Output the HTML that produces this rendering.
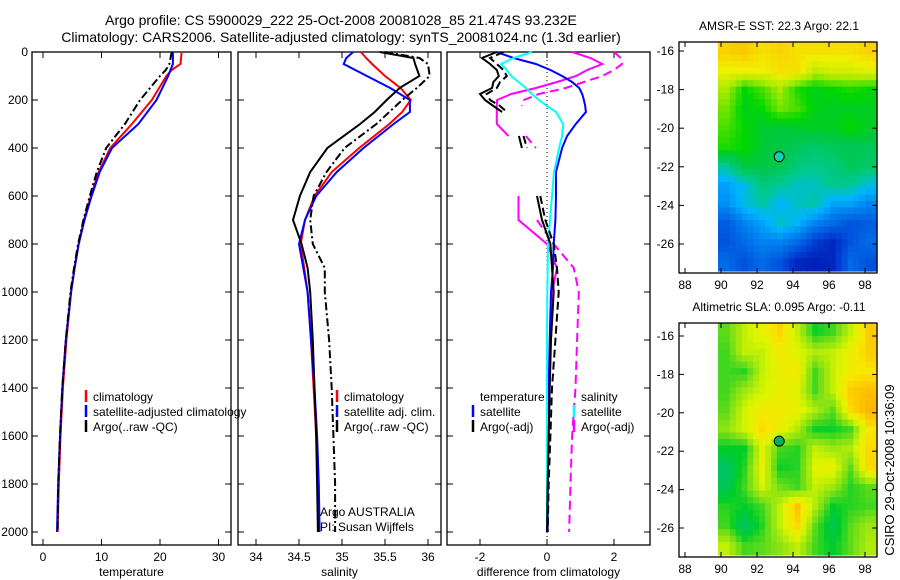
<!DOCTYPE html>
<html><head><meta charset="utf-8"><style>
html,body{margin:0;padding:0;background:#fff;}
svg{display:block;font-family:"Liberation Sans",sans-serif;}
</style></head><body>
<svg id="fig" width="900" height="580" viewBox="0 0 900 580">
<text x="341" y="25" font-size="14" text-anchor="middle">Argo profile: CS 5900029_222 25-Oct-2008 20081028_85 21.474S 93.232E</text>
<text x="341" y="42" font-size="14" text-anchor="middle">Climatology: CARS2006. Satellite-adjusted climatology: synTS_20081024.nc (1.3d earlier)</text>
<text transform="translate(894,470) rotate(-90)" font-size="13" text-anchor="middle">CSIRO 29-Oct-2008 10:36:09</text>
</svg>
<script>
// ---- data ----
const tDepth=[0,50,75,100,200,300,400,500,600,700,800,900,1000,1200,1400,1600,1800,2000];
const tClim=[23.7,23.5,22,21.1,18.6,15.2,11.5,9.5,8.2,7,6.1,5.4,4.8,4,3.4,3,2.7,2.5];
const tSat=[22.2,22.2,21.8,21.4,19.4,16.3,11.8,9.7,8.3,7.1,6.1,5.4,4.8,3.9,3.3,2.9,2.6,2.4];
const tArgo=[22,21.6,21,20,16.6,14,10.8,9.2,8,6.9,6,5.3,4.7,3.9,3.3,2.9,2.6,2.5];
const sDepth=[0,25,50,100,150,200,250,300,400,500,600,700,800,900,1000,1200,1400,1600,1800,2000];
const sClim=[35.22,35.28,35.35,35.5,35.68,35.8,35.7,35.55,35.2,34.88,34.68,34.57,34.52,34.56,34.6,34.64,34.67,34.7,34.72,34.73];
const sSat=[35.13,35.05,35.02,35.29,35.56,35.79,35.79,35.6,35.25,34.94,34.7,34.57,34.5,34.55,34.6,34.64,34.68,34.71,34.73,34.74];
const sArgo=[35.44,35.83,35.85,35.9,35.67,35.52,35.38,35.21,34.83,34.63,34.51,34.43,34.53,34.6,34.63,34.66,34.68,34.7,34.71,34.72];
const sArgoAdj=[35.5,35.9,36.0,36.02,35.87,35.7,35.55,35.4,35.03,34.82,34.67,34.63,34.66,34.8,34.8,34.85,34.88,34.9,34.92,34.92];
const dDepth=[0,25,50,75,100,125,150,175,200,225,250,300,350,400,500,600,700,800,900,1000,1200,1400,1600,1800,2000];
const dTempSat=[-1.5,-1.0,-0.33,0.1,0.45,0.75,0.96,1.05,1.1,1.14,1.16,0.86,0.6,0.45,0.27,0.27,0.25,0.2,0.18,0.12,0.08,0.05,0.03,0.02,0.02];
const dSalSat=[-0.45,-1.0,-1.37,-1.2,-1.07,-0.85,-0.63,-0.45,-0.24,0,0.27,0.48,0.45,0.36,0.21,0.15,0.09,0.03,0.02,0.01,0,0,0,0,0];
const dSalArgo=[0.75,1.3,1.65,1.2,0.87,0.3,-0.33,-1.07,-1.49,-1.5,-1.5,-1.5,-1.15,null,null,-0.85,-0.85,0,0.3,0.15,0.1,0.06,0.04,0.02,0];
const dSalArgoAdj=[2.0,2.2,2.24,2.0,1.65,1.1,0.56,-0.24,-0.69,-0.75,null,null,-0.63,-0.33,null,null,-0.3,0.2,0.8,0.95,0.9,0.85,0.75,0.7,0.66];
const dTempArgo=[-1.5,-1.94,-1.7,-1.5,-1.44,-1.6,-1.64,-2.0,-1.85,-1.6,-1.34,null,-0.84,-0.75,null,-0.3,-0.15,0.1,0.15,0.2,0.12,0.08,0.05,0.02,0];
const dTempArgoAdj=[-1.3,-1.7,-1.5,-1.3,-1.2,-1.4,-1.5,-1.8,-1.7,-1.4,-1.2,null,-0.7,-0.6,null,-0.2,-0.05,0.2,0.3,0.35,0.25,0.15,0.1,0.05,0.02];
const depthTicks=[0,200,400,600,800,1000,1200,1400,1600,1800,2000];
const tTicks=[0,10,20,30];
const sTicks=[34,34.5,35,35.5,36];
const dTicks=[-2,0,2];
const lonTicks=[88,90,92,94,96,98];
const latTicks=[-16,-18,-20,-22,-24,-26];
const mapLats=[-16,-17,-18,-19,-20,-21,-22,-23,-24,-25,-26,-27];
const sstGrid=[
[0.88,0.9,0.85,0.88,0.85,0.85,0.85,0.85,0.88],
[0.82,0.82,0.82,0.85,0.85,0.75,0.78,0.78,0.8],
[0.72,0.6,0.65,0.72,0.62,0.58,0.6,0.62,0.6],
[0.68,0.58,0.6,0.68,0.65,0.58,0.57,0.57,0.57],
[0.65,0.6,0.56,0.55,0.56,0.57,0.57,0.6,0.57],
[0.62,0.6,0.56,0.54,0.52,0.5,0.52,0.52,0.52],
[0.45,0.55,0.54,0.53,0.48,0.46,0.48,0.52,0.5],
[0.35,0.4,0.48,0.45,0.42,0.42,0.46,0.45,0.4],
[0.32,0.4,0.44,0.38,0.42,0.44,0.35,0.35,0.3],
[0.22,0.3,0.35,0.42,0.38,0.3,0.25,0.2,0.22],
[0.2,0.25,0.3,0.3,0.25,0.15,0.1,0.2,0.25],
[0.25,0.2,0.25,0.2,0.1,0.08,0.1,0.25,0.2]];
const slaGrid=[
[0.62,0.72,0.78,0.85,0.72,0.56,0.6,0.72,0.86],
[0.6,0.72,0.72,0.8,0.76,0.7,0.72,0.78,0.86],
[0.6,0.58,0.72,0.78,0.8,0.6,0.72,0.8,0.82],
[0.6,0.68,0.74,0.78,0.76,0.6,0.72,0.86,0.88],
[0.62,0.74,0.8,0.8,0.78,0.7,0.62,0.84,0.9],
[0.66,0.74,0.84,0.78,0.7,0.56,0.56,0.6,0.82],
[0.55,0.55,0.76,0.6,0.58,0.72,0.68,0.7,0.84],
[0.48,0.58,0.78,0.56,0.58,0.76,0.78,0.62,0.84],
[0.5,0.6,0.74,0.64,0.6,0.72,0.68,0.58,0.62],
[0.58,0.55,0.6,0.72,0.88,0.7,0.55,0.58,0.6],
[0.6,0.48,0.58,0.72,0.84,0.62,0.5,0.62,0.68],
[0.72,0.6,0.62,0.66,0.72,0.6,0.54,0.62,0.7]];
const argoLon=93.232, argoLat=-21.474;

// ---- drawing ----
const NS='http://www.w3.org/2000/svg';
const svg=document.getElementById('fig');
function el(tag,attrs,parent){const e=document.createElementNS(NS,tag);for(const k in attrs)e.setAttribute(k,attrs[k]);(parent||svg).appendChild(e);return e;}
function txt(x,y,s,size,anchor,parent){const t=el('text',{x:x,y:y,'font-size':size,'text-anchor':anchor||'start'},parent);t.textContent=s;return t;}
const yD=d=>52+0.24*d;
function panel(x0,x1,xs,xticks,fmt,label,name){
  const g=el('g',{});
  
  
  el('rect',{x:x0,y:52,width:x1-x0,height:493,fill:'none',stroke:'#000','stroke-width':1.3},g);
  depthTicks.forEach(d=>{const y=yD(d);
    el('line',{x1:x0,y1:y,x2:x0+6,y2:y,stroke:'#000'},g);
    el('line',{x1:x1,y1:y,x2:x1-6,y2:y,stroke:'#000'},g);
    if(name==='temperature-panel'){const t=txt(28,y+4,String(d),12,'end',g);}
  });
  xticks.forEach(v=>{const x=xs(v);
    el('line',{x1:x,y1:545,x2:x,y2:539,stroke:'#000'},g);
    el('line',{x1:x,y1:52,x2:x,y2:58,stroke:'#000'},g);
    const t=txt(x,561,fmt(v),12,'middle',g);
    
    
  });
  const l=txt((x0+x1)/2,576,label,12,'middle',g);
  
  
  return g;
}
function line(vals,depths,xs,color,dash,name,g){
  let d='',pen=false;
  vals.forEach((v,i)=>{if(v===null){pen=false;return;}
    d+=(pen?'L':'M')+xs(v).toFixed(1)+','+yD(depths[i]).toFixed(1);pen=true;});
  const p=el('path',{d:d,fill:'none',stroke:color,'stroke-width':2,'stroke-dasharray':dash||'none'},g);
  
  
}
function legend(g,x,rows){
  rows.forEach((r,i)=>{const y=397+i*15;
    if(r[1]) el('line',{x1:x,y1:y-7,x2:x,y2:y+5,stroke:r[1],'stroke-width':2.5},g);
    const t=txt(x+7,y+4,r[0],12,'start',g);
    
    
  });
}
// panel 1
const xT=v=>43+5.85*v;
const g1=panel(32,231,xT,tTicks,String,'temperature','temperature-panel');
line(tClim,tDepth,xT,'#f00',null,'temp-climatology-line',g1);
line(tSat,tDepth,xT,'#00f',null,'temp-satellite-line',g1);
line(tArgo,tDepth,xT,'#000','8,3,2,3','temp-argo-line',g1);
legend(g1,86,[['climatology','#f00'],['satellite-adjusted climatology','#00f'],['Argo(..raw -QC)','#000']]);
// panel 2
const xS=v=>256+86*(v-34);
const g2=panel(238,441,xS,sTicks,v=>String(v),'salinity','salinity-panel');
line(sClim,sDepth,xS,'#f00',null,'sal-climatology-line',g2);
line(sSat,sDepth,xS,'#00f',null,'sal-satellite-line',g2);
line(sArgo,sDepth,xS,'#000',null,'sal-argo-line',g2);
line(sArgoAdj,sDepth,xS,'#000','8,3,2,3','sal-argo-adj-line',g2);
legend(g2,337,[['climatology','#f00'],['satellite adj. clim.','#00f'],['Argo(..raw -QC)','#000']]);
const a1=txt(320,516,'Argo AUSTRALIA',12,'start',g2);
const a2=txt(320,531,'PI: Susan Wijffels',12,'start',g2);
// panel 3
const xD=v=>547+33.5*v;
const g3=panel(447,650,xD,dTicks,String,'difference from climatology','difference-panel');
el('line',{x1:xD(0),y1:52,x2:xD(0),y2:545,stroke:'#000','stroke-dasharray':'1,3'},g3);
line(dSalArgoAdj,dDepth,xD,'#f0f','9,5','sal-argo-adj-diff-line',g3);
line(dSalArgo,dDepth,xD,'#f0f',null,'sal-argo-diff-line',g3);
line(dTempSat,dDepth,xD,'#00f',null,'temp-satellite-diff-line',g3);
line(dSalSat,dDepth,xD,'#0ff',null,'sal-satellite-diff-line',g3);
line(dTempArgo,dDepth,xD,'#000',null,'temp-argo-diff-line',g3);
line(dTempArgoAdj,dDepth,xD,'#000','8,4','temp-argo-adj-diff-line',g3);
legend(g3,473,[['temperature',null],['satellite','#00f'],['Argo(-adj)','#000']]);
legend(g3,574,[['salinity',null],['satellite','#0ff'],['Argo(-adj)','#f0f']]);
// maps
function cmap(v,kind){
  const stops=kind==='sst'?
   [[0,[0,0,150]],[0.15,[0,60,210]],[0.3,[0,130,240]],[0.38,[0,180,255]],[0.45,[0,200,150]],[0.55,[0,200,60]],[0.6,[0,215,0]],[0.72,[170,235,0]],[0.82,[240,240,0]],[0.92,[255,190,0]],[1,[255,150,0]]]:
   [[0,[0,150,200]],[0.45,[0,190,130]],[0.55,[0,205,40]],[0.65,[130,225,20]],[0.75,[220,245,0]],[0.82,[250,230,0]],[0.9,[255,180,0]],[1,[255,140,0]]];
  for(let i=1;i<stops.length;i++){if(v<=stops[i][0]){const a=stops[i-1],b=stops[i];const t=(v-a[0])/(b[0]-a[0]);
    return 'rgb('+a[1].map((c,j)=>Math.round(c+(b[1][j]-c)*t)).join(',')+')';}}
  return 'rgb(255,140,0)';
}
// bilinear sample of a grid (rendering only; data are the grid values)
function sample(grid,r,c){
  const R=grid.length-1,C=grid[0].length-1;
  r=Math.max(0,Math.min(R,r));c=Math.max(0,Math.min(C,c));
  const r0=Math.floor(r),c0=Math.floor(c),r1=Math.min(R,r0+1),c1=Math.min(C,c0+1);
  const fr=r-r0,fc=c-c0;
  return grid[r0][c0]*(1-fr)*(1-fc)+grid[r0][c1]*(1-fr)*fc+grid[r1][c0]*fr*(1-fc)+grid[r1][c1]*fr*fc;
}
function map(top,bot,lat16,lat26,grid,kind,title,dotColor,name){
  const g=el('g',{});
  
  
  const xL=lon=>685+18*(lon-88);
  const yL=lat=>lat16+(lat26-lat16)*(lat+16)/(-10);
  const dataTop=top, dataBot=bot-2, S=3;
  const nr=mapLats.length*S, nc=grid[0].length*S;
  const cw=(877-718)/nc, ch=(dataBot-dataTop)/nr;
  for(let r=0;r<nr;r++)for(let c=0;c<nc;c++){
    const v=sample(grid,(r+0.5)/S-0.5,(c+0.5)/S-0.5);
    const cell=el('rect',{x:(718+c*cw).toFixed(1),y:(dataTop+r*ch).toFixed(1),width:(cw+0.6).toFixed(1),height:(ch+0.6).toFixed(1),fill:cmap(v,kind)},g);
    
    
  }
  el('rect',{x:679,y:top,width:198,height:bot-top,fill:'none',stroke:'#000','stroke-width':1.3},g);
  lonTicks.forEach(l=>{const x=xL(l);
    el('line',{x1:x,y1:bot,x2:x,y2:bot-5,stroke:'#000'},g);el('line',{x1:x,y1:top,x2:x,y2:top+5,stroke:'#000'},g);
    const t=txt(x,bot+16,String(l),12,'middle',g);});
  latTicks.forEach(l=>{const y=yL(l);
    el('line',{x1:679,y1:y,x2:684,y2:y,stroke:'#000'},g);el('line',{x1:877,y1:y,x2:872,y2:y,stroke:'#000'},g);
    const t=txt(674,y+4,String(l),12,'end',g);});
  const d=el('circle',{cx:xL(argoLon),cy:yL(argoLat),r:5,fill:dotColor,stroke:'#000','stroke-width':1},g);
  
  
  const t=txt(779,top-12,title,12,'middle',g);
}
map(42,273,51,244,sstGrid,'sst','AMSR-E SST: 22.3 Argo: 22.1','#10d0b0','sst-map');
map(323,557,336,528,slaGrid,'sla','Altimetric SLA: 0.095 Argo: -0.11','#00b060','sla-map');
</script>
</body></html>
